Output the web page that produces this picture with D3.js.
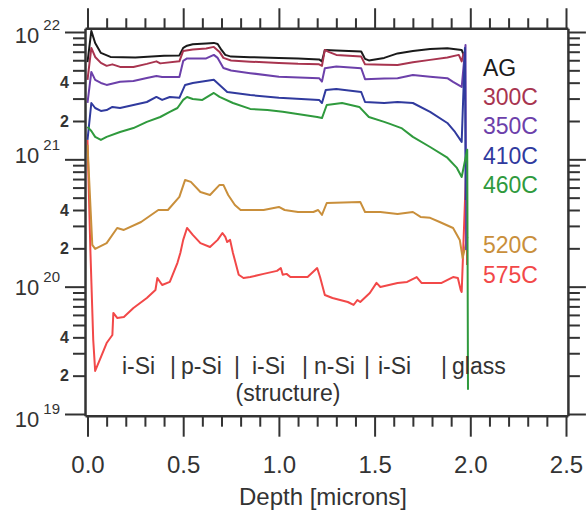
<!DOCTYPE html>
<html>
<head>
<meta charset="utf-8">
<script src="https://cdn.jsdelivr.net/npm/d3@7"></script>
<style>
body { margin: 0; background: #fff; }
text { font-family: "Liberation Sans", Arial, sans-serif; }
</style>
</head>
<body>
<div id="chart"></div>
<script>
// depth [microns], concentration [cm^-3]
const ag = [[0, 5.8e21], [0.02, 1.02e22], [0.04, 8.2e21], [0.07, 6.85e21], [0.12, 6.37e21], [0.25, 6.3e21],
  [0.40, 6.5e21], [0.48, 6.55e21], [0.50, 7.5e21], [0.52, 7.8e21], [0.55, 8.0e21], [0.62, 8.14e21],
  [0.66, 8.21e21], [0.68, 8.06e21], [0.70, 7.23e21], [0.72, 6.61e21], [0.75, 6.41e21], [0.85, 6.34e21],
  [1.0, 6.26e21], [1.10, 6.18e21], [1.21, 6.09e21], [1.225, 5.88e21], [1.24, 7.23e21], [1.30, 7.17e21],
  [1.43, 7.02e21], [1.45, 6.15e21], [1.47, 5.98e21], [1.55, 6.26e21], [1.62, 6.79e21], [1.70, 7.1e21],
  [1.79, 7.36e21], [1.88, 7.46e21], [1.955, 7.23e21], [1.965, 6.6e21]];

const t300 = [[0, 4.21e21], [0.02, 7.5e21], [0.04, 6.37e21], [0.07, 5.72e21], [0.10, 5.42e21], [0.13, 5.57e21],
  [0.17, 5.32e21], [0.24, 5.32e21], [0.31, 5.62e21], [0.36, 5.88e21], [0.38, 5.67e21], [0.48, 5.88e21],
  [0.50, 7.1e21], [0.55, 7.3e21], [0.62, 7.43e21], [0.66, 7.64e21], [0.69, 6.98e21], [0.71, 6.26e21],
  [0.75, 5.98e21], [0.85, 5.85e21], [1.0, 5.72e21], [1.10, 5.62e21], [1.21, 5.57e21], [1.225, 5.42e21],
  [1.24, 7.23e21], [1.26, 6.98e21], [1.30, 6.61e21], [1.43, 6.41e21], [1.45, 5.57e21], [1.55, 5.53e21],
  [1.62, 5.51e21], [1.70, 5.79e21], [1.79, 6.04e21], [1.88, 6.3e21], [1.94, 6.61e21], [1.955, 5.88e21],
  [1.965, 6.85e21]];

const t350 = [[0, 2.77e21], [0.02, 4.86e21], [0.04, 4.21e21], [0.07, 3.98e21], [0.10, 3.84e21], [0.17, 4.06e21],
  [0.24, 4.13e21], [0.31, 4.36e21], [0.36, 4.52e21], [0.39, 4.44e21], [0.48, 4.44e21], [0.50, 5.93e21],
  [0.52, 6.2e21], [0.62, 6.2e21], [0.66, 6.61e21], [0.68, 6.26e21], [0.71, 5.22e21], [0.75, 4.98e21],
  [0.85, 4.75e21], [1.0, 4.46e21], [1.21, 4.34e21], [1.225, 4.08e21], [1.24, 5.19e21], [1.30, 5.35e21],
  [1.43, 5.19e21], [1.45, 4.26e21], [1.55, 4.32e21], [1.62, 4.34e21], [1.70, 4.6e21], [1.79, 4.46e21],
  [1.88, 4.34e21], [1.91, 4.06e21], [1.955, 3.7e21], [1.975, 7.9e21], [1.978, 1.94e20]];

const t410 = [[0, 1.42e21], [0.02, 2.77e21], [0.04, 2.53e21], [0.07, 2.4e21], [0.10, 2.44e21], [0.13, 2.58e21],
  [0.17, 2.53e21], [0.24, 2.67e21], [0.31, 2.82e21], [0.36, 3.09e21], [0.39, 2.93e21], [0.43, 3.09e21],
  [0.48, 3.04e21], [0.51, 3.84e21], [0.55, 3.98e21], [0.66, 4.21e21], [0.69, 3.84e21], [0.73, 3.38e21],
  [0.85, 3.2e21], [1.0, 3.04e21], [1.21, 2.93e21], [1.225, 2.77e21], [1.245, 3.51e21], [1.30, 3.57e21],
  [1.43, 3.38e21], [1.45, 2.82e21], [1.55, 2.77e21], [1.62, 2.82e21], [1.70, 2.77e21], [1.79, 2.36e21],
  [1.88, 1.93e21], [1.92, 1.64e21], [1.955, 1.37e21], [1.972, 7.5e21], [1.976, 4.8e20]];

const t460 = [[0, 1.8e21], [0.02, 1.67e21], [0.04, 1.5e21], [0.07, 1.42e21], [0.10, 1.5e21], [0.17, 1.64e21],
  [0.24, 1.76e21], [0.31, 1.97e21], [0.38, 2.15e21], [0.43, 2.36e21], [0.47, 2.53e21], [0.50, 2.93e21],
  [0.52, 3.09e21], [0.55, 2.98e21], [0.60, 2.93e21], [0.66, 3.32e21], [0.69, 3.09e21], [0.76, 2.77e21],
  [0.85, 2.49e21], [0.94, 2.44e21], [1.02, 2.36e21], [1.20, 2.15e21], [1.225, 2.11e21], [1.25, 2.67e21],
  [1.33, 2.77e21], [1.42, 2.58e21], [1.47, 2.15e21], [1.55, 1.97e21], [1.58, 1.9e21], [1.64, 1.76e21],
  [1.70, 1.5e21], [1.79, 1.25e21], [1.88, 1.03e21], [1.93, 8.56e20], [1.955, 7.27e20], [1.984, 1.19e21],
  [1.988, 1.55e19]];

const t520 = [[0, 1.3e21], [0.025, 2.13e20], [0.04, 1.98e20], [0.10, 2.2e20], [0.155, 2.89e20], [0.19, 2.79e20],
  [0.28, 3.22e20], [0.37, 4.0e20], [0.42, 4.0e20], [0.48, 5.07e20], [0.51, 6.89e20], [0.54, 6.65e20],
  [0.59, 5.54e20], [0.64, 5.25e20], [0.69, 6.3e20], [0.71, 6.3e20], [0.735, 5.25e20], [0.77, 4.38e20],
  [0.80, 4.0e20], [0.92, 4.0e20], [1.0, 4.23e20], [1.03, 4.0e20], [1.10, 3.86e20], [1.18, 3.86e20],
  [1.205, 4.0e20], [1.225, 3.66e20], [1.25, 4.54e20], [1.425, 4.63e20], [1.45, 3.86e20], [1.53, 3.86e20],
  [1.62, 3.72e20], [1.70, 3.86e20], [1.74, 3.53e20], [1.79, 3.47e20], [1.84, 3.22e20], [1.91, 2.89e20],
  [1.945, 2.33e20], [1.96, 1.68e20], [1.985, 2.46e20]];

const t575 = [[0, 1.42e21], [0.015, 1.94e20], [0.03, 3.81e19], [0.04, 2.18e19], [0.07, 2.8e19], [0.10, 3.61e19],
  [0.13, 4.17e19], [0.135, 6.22e19], [0.155, 5.68e19], [0.19, 5.78e19], [0.24, 6.8e19], [0.31, 8.15e19],
  [0.355, 9.42e19], [0.365, 1.17e20], [0.39, 1.03e20], [0.43, 1.09e20], [0.47, 1.54e20], [0.485, 1.84e20],
  [0.50, 2.33e20], [0.52, 2.89e20], [0.55, 2.55e20], [0.59, 2.2e20], [0.64, 2.05e20], [0.68, 2.33e20],
  [0.705, 2.64e20], [0.72, 2.46e20], [0.73, 2.24e20], [0.745, 2.33e20], [0.76, 1.84e20], [0.79, 1.24e20],
  [0.815, 1.17e20], [0.85, 1.19e20], [0.92, 1.26e20], [0.99, 1.33e20], [1.01, 1.4e20], [1.02, 1.24e20],
  [1.04, 1.26e20], [1.06, 1.19e20], [1.15, 1.19e20], [1.20, 1.4e20], [1.215, 1.19e20], [1.24, 8.6e19],
  [1.28, 8.15e19], [1.36, 7.58e19], [1.39, 7.18e19], [1.41, 7.86e19], [1.425, 7.58e19], [1.475, 8.92e19],
  [1.51, 1.07e20], [1.53, 9.95e19], [1.62, 1.07e20], [1.67, 1.09e20], [1.72, 1.19e20], [1.745, 1.07e20],
  [1.85, 1.07e20], [1.91, 1.19e20], [1.935, 1.17e20], [1.95, 9.42e19], [1.955, 9.09e19], [1.98, 9.9e20],
  [1.983, 1.48e20]];

const seriesNames = ["AG", "300C", "350C", "410C", "460C", "520C", "575C"];
const seriesData = [ag, t300, t350, t410, t460, t520, t575];
const seriesColors = ["#1a1a1a", "#a8344f", "#6c40aa", "#303a9e", "#2f9a3d", "#c98f3b", "#f24848"];

const xMajor = [0, 0.5, 1.0, 1.5, 2.0, 2.5];
const xMinor = [0.1, 0.2, 0.3, 0.4, 0.6, 0.7, 0.8, 0.9, 1.1, 1.2, 1.3, 1.4, 1.6, 1.7, 1.8, 1.9, 2.1, 2.2, 2.3, 2.4];
const yMajor = [1e19, 1e20, 1e21, 1e22];
const yMinorMult = [2, 3, 4, 5, 6, 7, 8, 9];
const yMinorLabelled = [2, 4];
const structureLabels = ["i-Si", "|", "p-Si", "|", "i-Si", "|", "n-Si", "|", "i-Si", "|", "glass"];
const structureNote = "(structure)";
const xTitle = "Depth [microns]";

(function() {
  const W = 586, H = 512;
  const axisColor = "#333";

  const svg = d3.select("#chart").append("svg")
    .attr("width", W).attr("height", H);

  const xs = d3.scaleLinear().domain([0, 2.5]).range([87.5, 566]);
  const ys = d3.scaleLog().domain([1e19, 1e22]).range([414, 32]);

  // scales spanning the whole frame, same mapping; their axis lines draw the box
  const xFrame = xs.copy().domain([-0.013, 2.51]).range([xs(-0.013), xs(2.51)]);
  const yFrame = ys.copy().domain([0.97e19, 1.07e22]).range([ys(0.97e19), ys(1.07e22)]);
  const frameL = xFrame.range()[0], frameR = xFrame.range()[1];
  const frameB = yFrame.range()[0], frameT = yFrame.range()[1];

  const yMinor = [];
  yMajor.slice(0, 3).forEach(function(p) {
    yMinorMult.forEach(function(m) { yMinor.push(m * p); });
  });

  // curves
  const path = d3.line().x(function(d) { return xs(d[0]); }).y(function(d) { return ys(d[1]); });
  const drawOrder = [6, 5, 0, 1, 2, 3, 4];
  drawOrder.forEach(function(i) {
    svg.append("path")
      .datum(seriesData[i])
      .attr("d", path)
      .attr("fill", "none")
      .attr("stroke", seriesColors[i])
      .attr("stroke-width", 2)
      .attr("stroke-linejoin", "round");
  });

  function styleMajor(g) {
    g.select(".domain").attr("stroke", axisColor).attr("stroke-width", 2.5);
    g.selectAll(".tick line").attr("stroke", axisColor).attr("stroke-width", 2);
    g.selectAll("text").attr("fill", axisColor);
  }
  function styleMinor(g) {
    g.select(".domain").remove();
    g.selectAll(".tick line").attr("stroke", axisColor).attr("stroke-width", 2);
    g.selectAll("text").attr("fill", axisColor);
  }

  // bottom
  const bottomMajor = svg.append("g").attr("transform", "translate(0," + frameB + ")")
    .call(d3.axisBottom(xFrame).tickValues(xMajor).tickSize(21).tickSizeOuter(0).tickPadding(19)
      .tickFormat(d3.format(".1f")))
    .call(styleMajor);
  bottomMajor.selectAll("text").style("font-size", "24px");
  svg.append("g").attr("transform", "translate(0," + frameB + ")")
    .call(d3.axisBottom(xFrame).tickValues(xMinor).tickSize(11).tickFormat(""))
    .call(styleMinor);

  // top
  svg.append("g").attr("transform", "translate(0," + frameT + ")")
    .call(d3.axisTop(xFrame).tickValues(xMajor).tickSize(20).tickSizeOuter(0).tickFormat(""))
    .call(styleMajor);
  svg.append("g").attr("transform", "translate(0," + frameT + ")")
    .call(d3.axisTop(xFrame).tickValues(xMinor).tickSize(10).tickFormat(""))
    .call(styleMinor);

  // left
  svg.append("g").attr("transform", "translate(" + frameL + ",0)")
    .call(d3.axisLeft(yFrame).tickValues(yMajor).tickSize(20).tickSizeOuter(0).tickFormat(""))
    .call(styleMajor);
  const leftMinor = svg.append("g").attr("transform", "translate(" + frameL + ",0)")
    .call(d3.axisLeft(yFrame).tickValues(yMinor).tickSize(12).tickPadding(4)
      .tickFormat(function(d) {
        const m = Math.round(d / Math.pow(10, Math.floor(Math.log10(d) + 1e-9)));
        return yMinorLabelled.indexOf(m) >= 0 ? String(m) : "";
      }))
    .call(styleMinor);
  leftMinor.selectAll("text").style("font-size", "16px").style("font-weight", "bold");

  // right
  svg.append("g").attr("transform", "translate(" + frameR + ",0)")
    .call(d3.axisRight(yFrame).tickValues(yMajor).tickSize(18).tickSizeOuter(0).tickFormat(""))
    .call(styleMajor);
  svg.append("g").attr("transform", "translate(" + frameR + ",0)")
    .call(d3.axisRight(yFrame).tickValues(yMinor).tickSize(12).tickFormat(""))
    .call(styleMinor);

  // decade labels 10^n
  const decadeNudge = [6, 1, -3, 4];
  yMajor.forEach(function(v, i) {
    const lbl = svg.append("text")
      .attr("x", 60).attr("y", ys(v) + decadeNudge[i] + 7)
      .attr("text-anchor", "end").attr("fill", axisColor);
    lbl.append("tspan").style("font-size", "22px").text("10");
    lbl.append("tspan").style("font-size", "15px").attr("dx", 4).attr("dy", -13)
      .text(String(Math.round(Math.log10(v))));
  });

  // legend labels
  const legendY = [76, 105, 134, 164, 193, 253, 283];
  seriesNames.forEach(function(s, i) {
    svg.append("text")
      .attr("x", 483).attr("y", legendY[i])
      .attr("fill", seriesColors[i])
      .style("font-size", "23px")
      .text(s);
  });

  // structure annotation
  const structureX = [122, 170, 181, 234, 252, 302, 314, 364, 378, 441, 452];
  structureLabels.forEach(function(s, i) {
    svg.append("text")
      .attr("x", structureX[i]).attr("y", 374)
      .attr("fill", axisColor)
      .style("font-size", "23px")
      .text(s);
  });
  svg.append("text")
    .attr("x", 288).attr("y", 401)
    .attr("text-anchor", "middle")
    .attr("fill", axisColor)
    .style("font-size", "23px")
    .text(structureNote);

  // axis title
  svg.append("text")
    .attr("x", 323).attr("y", 505)
    .attr("text-anchor", "middle")
    .attr("fill", axisColor)
    .style("font-size", "24px")
    .text(xTitle);
})();
</script>
</body>
</html>
